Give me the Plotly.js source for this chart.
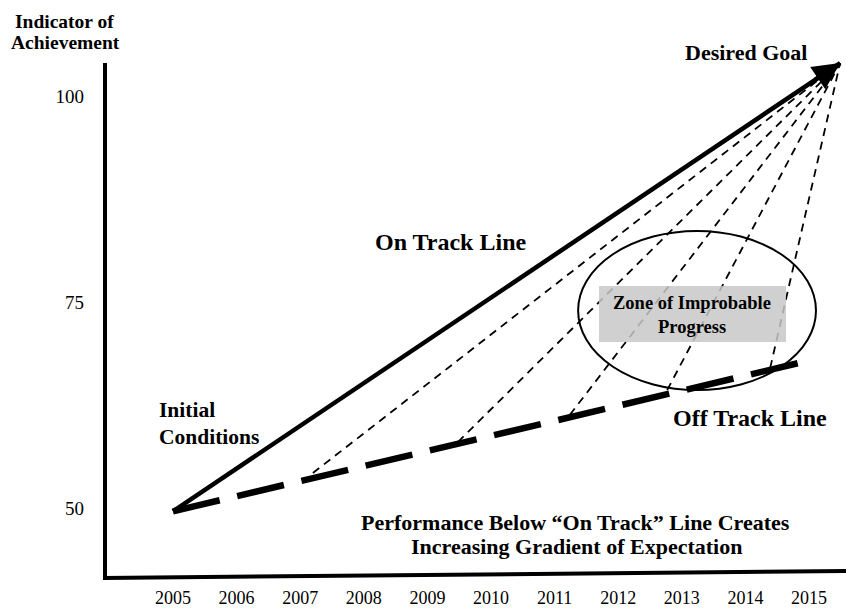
<!DOCTYPE html>
<html>
<head>
<meta charset="utf-8">
<script src="https://cdn.plot.ly/plotly-3.0.1.min.js"></script>
<style>html,body{margin:0;padding:0;background:#fff;}#chart{width:846px;height:610px;}</style>
</head>
<body>
<div id="chart"></div>
<script>
// ---- data ----
const years = [2005, 2006, 2007, 2008, 2009, 2010, 2011, 2012, 2013, 2014, 2015];
const yTicks = [50, 75, 100];
const onTrackX = [2005, 2015.49];        // initial conditions -> desired goal
const onTrackY = [49.6, 104.0];
const offTrackX = [2005, 2015.06];
const offTrackY = [49.6, 68.0];
const branchX = [2007.2, 2009.48, 2011.24, 2012.77, 2014.39];   // where gradient lines leave the off-track line
const branchY = [54.25, 58.0, 61.3, 64.3, 67.0];
const zoneX = [2011.37, 2015.11];
const zoneY = [64.32, 83.62];

// ---- geometry helpers ----
const W = 846, H = 610;
const M = {l: 95, r: 0, t: 0, b: 28};
const PW = W - M.l - M.r, PH = H - M.t - M.b;
const px = x => (x - M.l) / PW;
const py = y => (H - M.b - y) / PH;

const FONT = 'Liberation Serif, Times New Roman, DejaVu Serif, serif';

const traces = [];
// thin dashed gradient lines to the goal
branchX.forEach((bx, i) => {
  traces.push({
    x: [bx, onTrackX[1]], y: [branchY[i], onTrackY[1]],
    mode: 'lines', line: {color: '#000', width: 1.8, dash: '8px,6px'},
    hoverinfo: 'skip', showlegend: false
  });
});
// off track line
traces.push({
  x: offTrackX, y: offTrackY, mode: 'lines',
  line: {color: '#000', width: 6.5, dash: '48px,18px'},
  hoverinfo: 'skip', showlegend: false
});
// on track line
traces.push({
  x: onTrackX, y: onTrackY, mode: 'lines',
  line: {color: '#000', width: 4.5},
  hoverinfo: 'skip', showlegend: false
});

const ann = [];
function txt(t, x, y, size, xanchor) {
  ann.push({text: '<b>' + t + '</b>', xref: 'paper', yref: 'paper', x: px(x), y: py(y),
    xanchor: xanchor || 'center', yanchor: 'middle', showarrow: false,
    font: {family: FONT, size: size, color: '#000'}});
}
txt('Indicator of', 64, 22, 19.5);
txt('Achievement', 65, 43, 19.5);
txt('Desired Goal', 746, 52, 22);
txt('On Track Line', 450, 242, 24);
txt('Off Track Line', 750, 418, 24);
txt('Initial', 157, 410, 21.5, 'left');
txt('Conditions', 157, 437, 21.5, 'left');
txt('Zone of Improbable', 692, 303, 18.5);
txt('Progress', 692, 327, 18.5);
txt('Performance Below \u201cOn Track\u201d Line Creates', 575, 522, 22);
txt('Increasing Gradient of Expectation', 576, 546, 22);

// arrow head at the goal
const f = 0.96;
ann.push({
  x: onTrackX[1], y: onTrackY[1], xref: 'x', yref: 'y',
  ax: onTrackX[0] + f * (onTrackX[1] - onTrackX[0]),
  ay: onTrackY[0] + f * (onTrackY[1] - onTrackY[0]),
  axref: 'x', ayref: 'y', text: '', showarrow: true,
  arrowhead: 2, arrowsize: 1.2, arrowwidth: 4.5, arrowcolor: '#000', standoff: 0
});

const shapes = [
  // axes drawn as in the sketch
  {type: 'line', xref: 'paper', yref: 'paper', x0: px(105), y0: py(63), x1: px(105), y1: py(580),
   line: {color: '#000', width: 4}},
  {type: 'line', xref: 'paper', yref: 'paper', x0: px(103), y0: py(578), x1: px(846), y1: py(571),
   line: {color: '#000', width: 4}},
  // zone ellipse
  {type: 'circle', xref: 'x', yref: 'y', x0: zoneX[0], x1: zoneX[1], y0: zoneY[0], y1: zoneY[1],
   line: {color: '#000', width: 2}, fillcolor: 'rgba(0,0,0,0)', layer: 'above'},
  // gray label box
  {type: 'rect', xref: 'paper', yref: 'paper', x0: px(599), x1: px(786), y0: py(342), y1: py(286),
   line: {width: 0}, fillcolor: 'rgba(200,200,200,0.85)', layer: 'above'}
];

const layout = {
  width: W, height: H, margin: M,
  paper_bgcolor: '#fff', plot_bgcolor: '#fff',
  showlegend: false,
  xaxis: {range: [2003.774, 2015.582], tickvals: years, ticktext: years.map(String),
    showgrid: false, zeroline: false, showline: false, ticks: '',
    ticklabelstandoff: 3, tickfont: {family: FONT, size: 18, color: '#000'}, fixedrange: true},
  yaxis: {range: [41.02, 111.65], tickvals: yTicks, ticktext: yTicks.map(String),
    showgrid: false, zeroline: false, showline: false, ticks: '',
    ticklabelstandoff: 10, tickfont: {family: FONT, size: 19, color: '#000'}, fixedrange: true},
  shapes: shapes,
  annotations: ann
};

Plotly.newPlot('chart', traces, layout, {displayModeBar: false, staticPlot: true});
</script>
</body>
</html>
